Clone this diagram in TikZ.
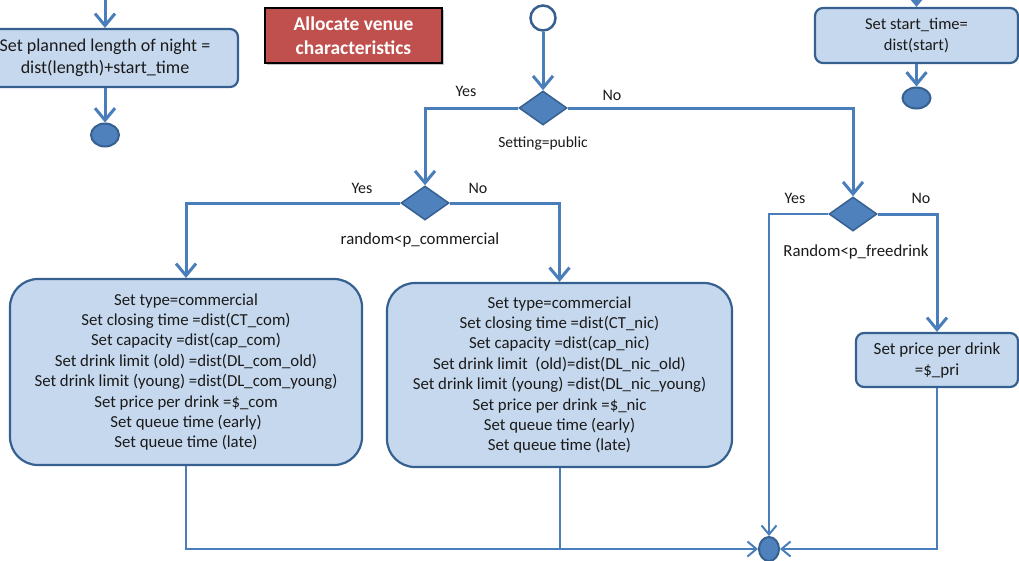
\documentclass[tikz,border=0pt]{standalone}
\usepackage{fontspec}
\setmainfont{Carlito}
\usetikzlibrary{arrows.meta,shapes.geometric,shadows}
\definecolor{flow}{HTML}{4A7EBB}
\definecolor{boxfill}{HTML}{C6D8EE}
\definecolor{boxline}{HTML}{36608F}
\definecolor{diafill}{HTML}{4F81BD}
\definecolor{titlered}{HTML}{C0504D}
\definecolor{ink}{HTML}{1A1A1A}

\begin{document}
\begin{tikzpicture}[x=1pt,y=-1pt,
  every node/.style={font=\fontsize{16.8}{20.4}\selectfont, text=ink},
  actbox/.style={draw=boxline, fill=boxfill, line width=2.2pt, rounded corners=8pt,
    align=center, inner sep=0pt},
  bigbox/.style={actbox, rounded corners=28pt},
  decision/.style={diamond, draw=boxline, fill=diafill, line width=1.5pt,
    minimum width=48pt, minimum height=34pt, inner sep=0pt},
  dot/.style={ellipse, draw=boxline, fill=diafill, line width=2pt, inner sep=0pt},
  flowline/.style={draw=flow, line width=3pt},
  thinline/.style={draw=flow, line width=2pt},
  arr/.style={-{Straight Barb[length=12pt,width=20pt]}},
  arrsmall/.style={-{Straight Barb[length=9pt,width=15pt]}},
  lbl/.style={font=\fontsize{16}{18}\selectfont, inner sep=0pt}
]
\clip (0,0) rectangle (1019,560);

% --- left fragment: planned length of night
\coordinate (plantop) at (105,-6);
\node[actbox, minimum width=266pt, minimum height=58pt,
  font=\fontsize{18}{22}\selectfont] (plan) at (105,58)
  {Set planned length of night =\\dist(length)+start\_time};
\node[dot, minimum width=28pt, minimum height=23pt] (planend) at (105,135) {};
\draw[flowline,arr] (plantop) -- (plan.north);
\draw[flowline,arr] (plan.south) -- (planend.north);

% --- title
\node[draw=black, line width=1.5pt, fill=titlered, text=white,
  font=\bfseries\fontsize{19.5}{23.5}\selectfont, minimum width=177pt,
  minimum height=55pt, align=center, inner sep=0pt,
  drop shadow={shadow xshift=2pt, shadow yshift=-2pt, opacity=0.45}] (title)
  at (353.5,35.5) {Allocate venue\\characteristics};

% --- right fragment: start time
\coordinate (sttop) at (916.5,-6);
\node[actbox, minimum width=203pt, minimum height=55pt,
  font=\fontsize{16.5}{21}\selectfont] (stime) at (916.5,35.5)
  {Set start\_time=\\dist(start)};
\node[dot, minimum width=28pt, minimum height=21pt] (stend) at (916.5,98) {};
\draw[flowline,arr] (sttop) -- (stime.north);
\draw[flowline,arr] (stime.south) -- (stend.north);

% --- main flow
\node[circle, draw=boxline, fill=white, line width=2.5pt, minimum size=25pt,
  inner sep=0pt] (start) at (543,18) {};
\node[decision] (d1) at (543,108) {};
\node[decision] (d2) at (425,203) {};
\node[decision] (d3) at (853,214) {};

\node[lbl] (d1yes) at (466,91) {Yes};
\node[lbl] (d1no)  at (612,95) {No};
\node[lbl, font=\fontsize{15.5}{18}\selectfont] (d1txt) at (543,143) {Setting=public};
\node[lbl] (d2yes) at (362,188) {Yes};
\node[lbl] (d2no)  at (478,188) {No};
\node[lbl, font=\fontsize{16.8}{18}\selectfont] (d2txt) at (420,240) {random<p\_commercial};
\node[lbl, font=\fontsize{16.8}{18}\selectfont] (d3txt) at (856,252) {Random<p\_freedrink};
\node[lbl] (d3yes) at (795,198) {Yes};
\node[lbl] (d3no)  at (921,198) {No};

\node[bigbox, minimum width=352pt, minimum height=186pt] (boxa) at (186,372)
  {Set type=commercial\\
   Set closing time =dist(CT\_com)\\
   Set capacity =dist(cap\_com)\\
   Set drink limit (old) =dist(DL\_com\_old)\\
   Set drink limit (young) =dist(DL\_com\_young)\\
   Set price per drink =\$\_com\\
   Set queue time (early)\\
   Set queue time (late)};
\node[bigbox, minimum width=345pt, minimum height=184pt] (boxb) at (559.5,375)
  {Set type=commercial\\
   Set closing time =dist(CT\_nic)\\
   Set capacity =dist(cap\_nic)\\
   Set drink limit\ \ (old)=dist(DL\_nic\_old)\\
   Set drink limit (young) =dist(DL\_nic\_young)\\
   Set price per drink =\$\_nic\\
   Set queue time (early)\\
   Set queue time (late)};
\node[actbox, minimum width=162pt, minimum height=54pt,
  font=\fontsize{17}{21}\selectfont] (boxc) at (937,360)
  {Set price per drink\\=\$\_pri};

\node[dot, minimum width=20pt, minimum height=24pt] (merge) at (769,549) {};

\draw[flowline,arr] (start) -- (d1.north);
\draw[flowline,arr] (d1.west) -| (d2.north);
\draw[flowline,arr] (d1.east) -| (d3.north);
\draw[flowline,arr] (d2.west) -| (boxa.north);
\draw[flowline,arr] (d2.east) -| (boxb.north);
\draw[flowline,arr] (d3.east) -| (boxc.north);
\draw[thinline,arrsmall] (d3.west) -| (merge.north);

\draw[thinline,arrsmall] (boxa.south) |- (merge.west);
\draw[thinline] (boxb.south) -- (boxb.south |- merge.west);
\draw[thinline,arrsmall] (boxc.south) |- (merge.east);
\end{tikzpicture}
\end{document}
